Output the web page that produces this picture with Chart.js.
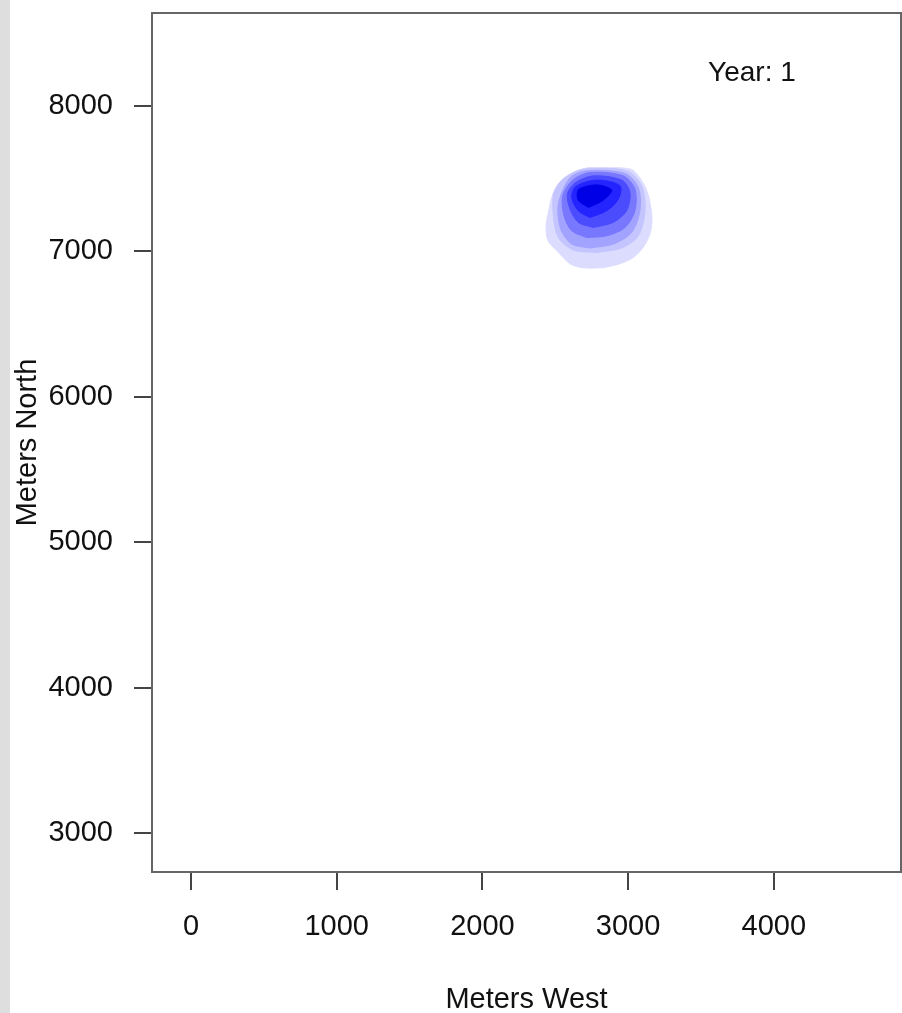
<!DOCTYPE html>
<html>
<head>
<meta charset="utf-8">
<script src="https://cdn.jsdelivr.net/npm/chart.js@4.4.1/dist/chart.umd.min.js"></script>
<style>
  html, body { margin: 0; padding: 0; background: #ffffff; }
  #wrap { position: relative; width: 902px; height: 1013px; }
  #strip { position: absolute; left: 0; top: 0; width: 10px; height: 1013px; background: #dedede; }
  canvas { position: absolute; left: 0; top: 0; }
</style>
</head>
<body>
<div id="wrap">
  <div id="strip"></div>
  <canvas id="c" width="902" height="1013"></canvas>
</div>
<script>
// ---- axis data ----
const xTicks = [0, 1000, 2000, 3000, 4000];
const yTicks = [3000, 4000, 5000, 6000, 7000, 8000];
const xLimits = [-268, 4873];
const yLimits = [2732, 8639];
const xTitle = 'Meters West';
const yTitle = 'Meters North';
const yearLabel = 'Year: 1';
const yearLabelPos = [3850, 8227];

// ---- density contour levels (outer -> inner), points in metres ----
const level1 = [[2828,6887],[2690,6887],[2601,6915],[2512,7004],[2450,7073],[2436,7162],[2450,7258],[2484,7396],[2532,7471],[2622,7540],[2718,7574],[2786,7574],[3013,7567],[3081,7505],[3136,7396],[3164,7231],[3150,7121],[3102,7025],[3033,6956],[2944,6915]];
const level2 = [[2784,6992],[2624,7009],[2521,7095],[2486,7256],[2491,7405],[2555,7500],[2692,7565],[2990,7554],[3093,7451],[3116,7279],[3070,7107],[2956,7023]];
const level3 = [[2738,7023],[2613,7050],[2537,7153],[2521,7325],[2600,7505],[2716,7554],[2979,7535],[3070,7439],[3081,7279],[3024,7130],[2898,7050]];
const level4 = [[2716,7095],[2613,7141],[2560,7245],[2551,7382],[2620,7490],[2738,7542],[2967,7519],[3047,7428],[3047,7279],[2979,7164],[2853,7107]];
const level5 = [[2761,7164],[2658,7199],[2601,7291],[2583,7394],[2635,7470],[2761,7519],[2956,7490],[3013,7405],[2990,7279],[2898,7199]];
const level6 = [[2738,7233],[2658,7279],[2613,7370],[2640,7445],[2784,7490],[2944,7451],[2933,7359],[2853,7279]];
const level7 = [[2727,7302],[2658,7352],[2660,7425],[2784,7457],[2887,7421],[2830,7352]];
const levels = [level1, level2, level3, level4, level5, level6, level7];
const levelColors = ['#dcdcff', '#c4c4ff', '#a2a2ff', '#7878ff', '#4c4cff', '#2424ff', '#0000e6'];

const FONT = "'Liberation Sans', Arial, sans-serif";
const FS = 29;

const datasets = levels.map((pts, i) => {
  const data = pts.map(p => ({x: p[0], y: p[1]}));
  data.push({x: pts[0][0], y: pts[0][1]});
  return {
    data,
    showLine: true,
    fill: 'shape',
    backgroundColor: levelColors[i],
    borderColor: levelColors[i],
    borderWidth: 1,
    pointRadius: 0,
    tension: 0.3,
    order: levels.length - i
  };
});

const boxPlugin = {
  id: 'box',
  afterDraw(chart) {
    const {ctx, chartArea: a, scales} = chart;
    ctx.save();
    ctx.strokeStyle = '#666';
    ctx.lineWidth = 2;
    ctx.strokeRect(a.left, a.top, a.right - a.left, a.bottom - a.top);
    ctx.fillStyle = '#111';
    ctx.font = '28px ' + FONT;
    ctx.textAlign = 'center';
    ctx.textBaseline = 'middle';
    ctx.fillText(yearLabel, scales.x.getPixelForValue(yearLabelPos[0]), scales.y.getPixelForValue(yearLabelPos[1]));
    ctx.restore();
  }
};

new Chart(document.getElementById('c'), {
  type: 'scatter',
  data: { datasets },
  options: {
    responsive: false,
    animation: false,
    layout: { padding: { top: 13, right: 1, left: 0, bottom: 0 } },
    plugins: { legend: { display: false }, tooltip: { enabled: false } },
    scales: {
      x: {
        type: 'linear',
        min: xLimits[0], max: xLimits[1],
        afterBuildTicks: s => { s.ticks = xTicks.map(v => ({value: v})); },
        afterFit: s => { s.height = 141; s.paddingLeft = 0; s.paddingRight = 0; },
        grid: { drawOnChartArea: false, drawTicks: true, tickLength: 18, color: '#444', lineWidth: 2 },
        border: { display: false },
        ticks: { font: { size: FS, family: FONT }, color: '#111', padding: 20, maxRotation: 0, autoSkip: false, callback: v => String(v) },
        title: { display: true, text: xTitle, font: { size: FS, family: FONT }, color: '#111', padding: { top: 0, bottom: -4 } }
      },
      y: {
        type: 'linear',
        min: yLimits[0], max: yLimits[1],
        afterBuildTicks: s => { s.ticks = yTicks.map(v => ({value: v})); },
        afterFit: s => { s.width = 152; s.paddingTop = 0; s.paddingBottom = 0; },
        grid: { drawOnChartArea: false, drawTicks: true, tickLength: 18, color: '#444', lineWidth: 2 },
        border: { display: false },
        ticks: { font: { size: FS, family: FONT }, color: '#111', padding: 21, autoSkip: false, callback: v => String(v) },
        title: { display: true, text: yTitle, font: { size: FS, family: FONT }, color: '#111', padding: { top: 11, bottom: 0 } }
      }
    }
  },
  plugins: [boxPlugin]
});
</script>
</body>
</html>
